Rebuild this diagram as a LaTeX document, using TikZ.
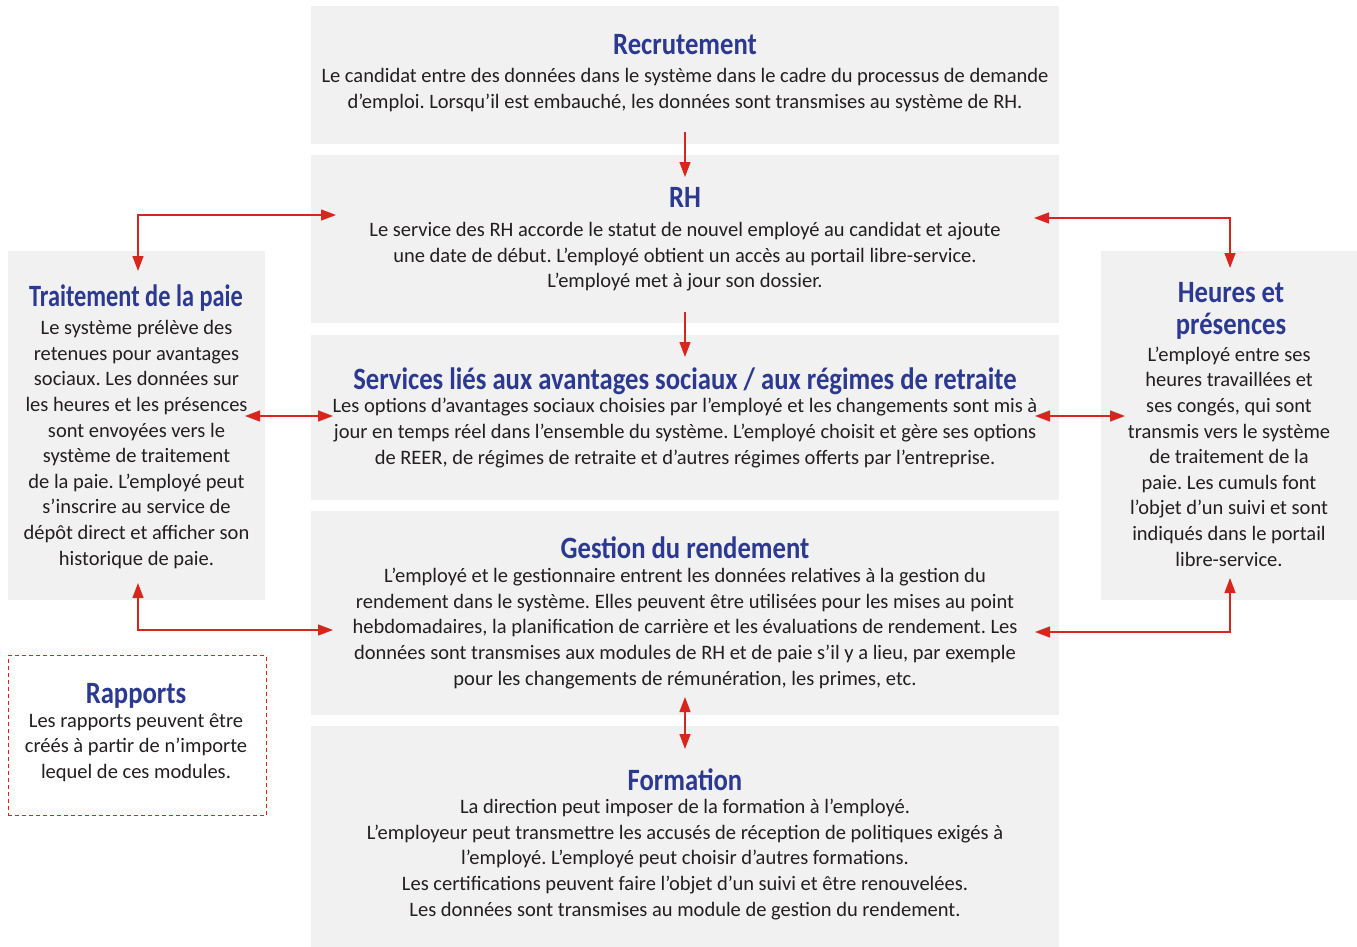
\documentclass[tikz,border=0pt]{standalone}
\usepackage{fontspec}
\setmainfont{Carlito}
\newfontfamily\ttlfont{Carlito}[FakeStretch=0.86]
\newfontfamily\ttlfontnarrow{Carlito}[FakeStretch=0.785]
\usetikzlibrary{arrows.meta,calc}
\definecolor{boxgray}{HTML}{F1F1F1}
\definecolor{ttlblue}{HTML}{2B3990}
\definecolor{txtdark}{HTML}{231F20}
\definecolor{arrred}{HTML}{D7261E}
\frenchspacing
\begin{document}
\frenchspacing
\begin{tikzpicture}[x=1pt,y=-1pt,
  panel/.style={fill=boxgray, draw=none, inner sep=0, outer sep=0, anchor=north west},
  dashpanel/.style={draw=arrred, line width=1pt, dash pattern=on 4pt off 3pt, fill=none, inner sep=0, anchor=north west},
  ttl/.style={font=\ttlfont\bfseries\fontsize{31}{32}\selectfont, text=ttlblue, inner sep=0, align=center},
  bod/.style={font=\fontsize{20.5}{25.6}\selectfont, text=txtdark, inner sep=0, align=center},
  link/.style={draw=arrred, line width=1.3pt, {Triangle[length=15pt,width=11pt]}-{Triangle[length=15pt,width=11pt]}},
  onelink/.style={draw=arrred, line width=1.3pt, -{Triangle[length=15pt,width=11pt]}}]
\useasboundingbox (0,0) rectangle (1357,947);

% panels
\node[panel, minimum width=748pt, minimum height=138pt] (rec) at (311,6) {};
\node[panel, minimum width=748pt, minimum height=168pt] (rh) at (311,155) {};
\node[panel, minimum width=748pt, minimum height=165pt] (srv) at (311,335) {};
\node[panel, minimum width=748pt, minimum height=204pt] (ges) at (311,511) {};
\node[panel, minimum width=748pt, minimum height=221pt] (frm) at (311,726) {};
\node[panel, minimum width=257pt, minimum height=349pt] (pay) at (8,251) {};
\node[panel, minimum width=256pt, minimum height=349pt] (hrs) at (1101,251) {};
\node[dashpanel, minimum width=258pt, minimum height=160pt] (rap) at (7.5,655) {};

% titles
\node[ttl, anchor=base] (rec-t) at (685,54.5) {Recrutement};
\node[ttl, anchor=base] (rh-t) at (685,207) {RH};
\node[ttl, anchor=base] (srv-t) at (685,389) {Services liés aux avantages sociaux / aux régimes de retraite};
\node[ttl, anchor=base] (ges-t) at (685,558) {Gestion du rendement};
\node[ttl, anchor=base] (frm-t) at (685,790) {Formation};
\node[ttl, anchor=base, font=\ttlfontnarrow\bfseries\fontsize{31}{32}\selectfont] (pay-t) at (136,306) {Traitement de la paie};
\node[ttl] (hrs-t) at (1231,311) {Heures et\\présences};
\node[ttl, anchor=base] (rap-t) at (136,703) {Rapports};

% bodies
\node[bod] (rec-b) at (685,90) {Le candidat entre des données dans le système dans le cadre du processus de demande\\d’emploi. Lorsqu’il est embauché, les données sont transmises au système de RH.};
\node[bod] (rh-b) at (685,257) {Le service des RH accorde le statut de nouvel employé au candidat et ajoute\\une date de début. L’employé obtient un accès au portail libre-service.\\L’employé met à jour son dossier.};
\node[bod] (srv-b) at (685,433) {Les options d’avantages sociaux choisies par l’employé et les changements sont mis à\\jour en temps réel dans l’ensemble du système. L’employé choisit et gère ses options\\de REER, de régimes de retraite et d’autres régimes offerts par l’entreprise.};
\node[bod] (ges-b) at (685,628.5) {L’employé et le gestionnaire entrent les données relatives à la gestion du\\rendement dans le système. Elles peuvent être utilisées pour les mises au point\\hebdomadaires, la planification de carrière et les évaluations de rendement. Les\\données sont transmises aux modules de RH et de paie s’il y a lieu, par exemple\\pour les changements de rémunération, les primes, etc.};
\node[bod] (frm-b) at (685,859.5) {La direction peut imposer de la formation à l’employé.\\L’employeur peut transmettre les accusés de réception de politiques exigés à\\l’employé. L’employé peut choisir d’autres formations.\\Les certifications peuvent faire l’objet d’un suivi et être renouvelées.\\Les données sont transmises au module de gestion du rendement.};
\node[bod] (pay-b) at (136.5,444.5) {Le système prélève des\\retenues pour avantages\\sociaux. Les données sur\\les heures et les présences\\sont envoyées vers le\\système de traitement\\de la paie. L’employé peut\\s’inscrire au service de\\dépôt direct et afficher son\\historique de paie.};
\node[bod] (hrs-b) at (1229,456.5) {L’employé entre ses\\heures travaillées et\\ses congés, qui sont\\transmis vers le système\\de traitement de la\\paie. Les cumuls font\\l’objet d’un suivi et sont\\indiqués dans le portail\\libre-service.};
\node[bod] (rap-b) at (136,747.5) {Les rapports peuvent être\\créés à partir de n’importe\\lequel de ces modules.};

% connector end points
\coordinate (rec-out) at (685,132);
\coordinate (rh-in) at (685,177);
\coordinate (rh-out) at (685,312);
\coordinate (srv-in) at (685,357);
\coordinate (ges-out) at (685,697);
\coordinate (frm-in) at (685,749);
\coordinate (rh-l) at (336,215);
\coordinate (pay-top) at (138,271);
\coordinate (rh-r) at (1034,218);
\coordinate (hrs-top) at (1230,268);
\coordinate (pay-r) at (245,416);
\coordinate (srv-l) at (333,416);
\coordinate (srv-r) at (1035,416);
\coordinate (hrs-l) at (1125,416);
\coordinate (pay-bot) at (138,583);
\coordinate (ges-l) at (333,630);
\coordinate (ges-r) at (1035,632);
\coordinate (hrs-bot) at (1230,578);

% connectors
\draw[onelink] (rec-out) -- (rh-in);
\draw[onelink] (rh-out) -- (srv-in);
\draw[link] (ges-out) -- (frm-in);
\draw[link] (rh-l) -| (pay-top);
\draw[link] (rh-r) -| (hrs-top);
\draw[link] (pay-r) -- (srv-l);
\draw[link] (srv-r) -- (hrs-l);
\draw[link] (pay-bot) |- (ges-l);
\draw[link] (hrs-bot) |- (ges-r);
\end{tikzpicture}
\end{document}
